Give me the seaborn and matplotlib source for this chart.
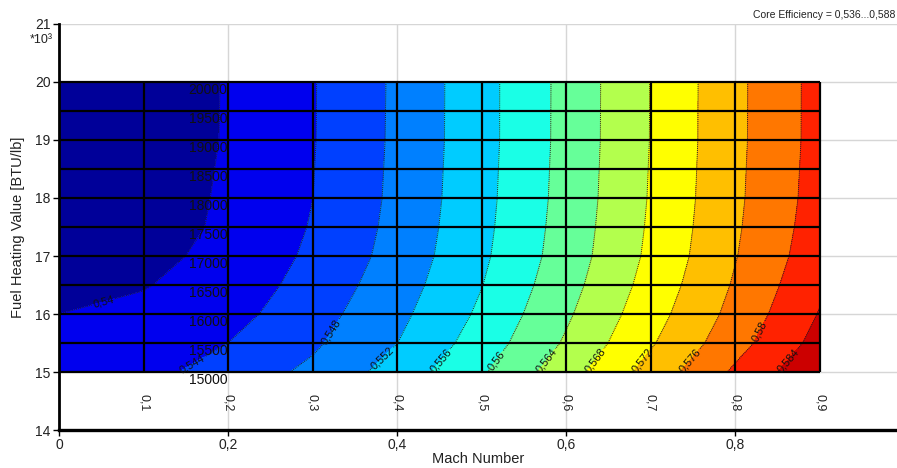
import numpy as np
import pandas as pd
import matplotlib
matplotlib.use("Agg")
import matplotlib.pyplot as plt
import seaborn as sns
from matplotlib.transforms import blended_transform_factory

# ---------------- data ----------------
mach = [0.0, 0.1, 0.2, 0.3, 0.4, 0.5, 0.6, 0.7, 0.8, 0.9]
fhv = [15000, 15500, 16000, 16500, 17000, 17500, 18000, 19000, 20000]

eff_15000 = [0.5418, 0.5428, 0.54565, 0.54885, 0.55364, 0.55951, 0.56628, 0.57345, 0.58066, 0.58727]
eff_15500 = [0.5409, 0.5418, 0.5440, 0.54736, 0.55195, 0.55784, 0.56448, 0.57156, 0.57847, 0.58538]
eff_16000 = [0.5400, 0.5408, 0.5426, 0.54638, 0.55096, 0.55671, 0.56338, 0.57036, 0.57725, 0.5842]
eff_16500 = [0.5392, 0.5398, 0.5416, 0.54548, 0.55011, 0.55588, 0.56251, 0.56945, 0.57642, 0.5832]
eff_17000 = [0.5385, 0.5389, 0.5411, 0.54467, 0.54944, 0.55527, 0.56186, 0.56879, 0.57579, 0.58237]
eff_17500 = [0.5379, 0.5379, 0.5408, 0.54423, 0.54909, 0.55497, 0.56159, 0.5685, 0.57546, 0.58192]
eff_18000 = [0.5373, 0.5374, 0.54069, 0.54397, 0.54886, 0.55477, 0.56138, 0.56829, 0.57525, 0.58162]
eff_19000 = [0.5366, 0.5372, 0.54034, 0.54379, 0.54869, 0.55458, 0.5612, 0.56809, 0.57507, 0.58138]
eff_20000 = [0.5361, 0.5370, 0.54031, 0.54376, 0.54864, 0.55458, 0.56117, 0.56807, 0.57505, 0.58136]

levels = [0.536, 0.540, 0.544, 0.548, 0.552, 0.556, 0.560, 0.564,
          0.568, 0.572, 0.576, 0.580, 0.584, 0.588]
band_colors = ["#000099", "#0000EE", "#0040FF", "#0080FF", "#00CCFF", "#1AFFE6",
               "#66FF99", "#B3FF4D", "#FFFF00", "#FFBF00", "#FF7700", "#FF2200", "#CC0000"]

label_levels = [0.540, 0.544, 0.548, 0.552, 0.556, 0.560, 0.564, 0.568, 0.572, 0.576, 0.580, 0.584]
label_rows = [16230, 15150, 15700, 15250, 15200, 15200, 15200, 15200, 15200, 15200, 15700, 15200]

grid_mach = [0.0, 0.1, 0.2, 0.3, 0.4, 0.5, 0.6, 0.7, 0.8, 0.9]
grid_fhv = [15000, 15500, 16000, 16500, 17000, 17500, 18000, 18500, 19000, 19500, 20000]
grid_fhv_labels = ["15000", "15500", "16000", "16500", "17000", "17500",
                   "18000", "18500", "19000", "19500", "20000"]
mach_labels = ["0,1", "0,2", "0,3", "0,4", "0,5", "0,6", "0,7", "0,8", "0,9"]

x_ticks = [0.0, 0.2, 0.4, 0.6, 0.8]
x_tick_labels = ["0", "0,2", "0,4", "0,6", "0,8"]
y_ticks = [14000, 15000, 16000, 17000, 18000, 19000, 20000, 21000]
y_tick_labels = ["14", "15", "16", "17", "18", "19", "20", "21"]

# ---------------- build table ----------------
rows = [eff_15000, eff_15500, eff_16000, eff_16500, eff_17000,
        eff_17500, eff_18000, eff_19000, eff_20000]
records = []
for f, r in zip(fhv, rows):
    for m, z in zip(mach, r):
        records.append({"mach": m, "fhv": f, "eff": z})
df = pd.DataFrame(records)
table = df.pivot(index="fhv", columns="mach", values="eff")
Z = table.values
X = table.columns.values
Y = table.index.values

# ---------------- style ----------------
sns.set_style("white")
plt.rcParams["font.family"] = ["Liberation Sans", "DejaVu Sans"]

W, H = 897, 468
fig = plt.figure(figsize=(W / 100, H / 100), dpi=100)
left, right, top, bottom = 59, 897, 24, 430
ax = fig.add_axes([left / W, 1 - bottom / H, (right - left) / W, (bottom - top) / H])

ax.set_xlim(0, (right - left) / 845.0)
ax.set_ylim(14000, 21000)

ax.set_axisbelow(True)
ax.grid(True, color="#d6d6d6", linewidth=1.0)

cf = ax.contourf(X, Y, Z, levels=levels, colors=band_colors, zorder=1)
cs = ax.contour(X, Y, Z, levels=levels[1:-1], colors="#222222",
                linewidths=0.7, linestyles=[(0, (1, 1))], zorder=2)

# label positions derived from the data along chosen rows
positions = []
for lev, fr in zip(label_levels, label_rows):
    zrow = np.array([np.interp(fr, Y, Z[:, j]) for j in range(len(X))])
    xm = np.interp(lev, zrow, X)
    positions.append((xm, fr))

def fmt(v):
    return ("%g" % v).replace(".", ",")

ax.clabel(cs, levels=label_levels, fmt=fmt, fontsize=8, inline=True,
          inline_spacing=1, manual=positions, colors="#111111")

# mesh lines
ax.vlines(grid_mach, grid_fhv[0], grid_fhv[-1], colors="black", linewidth=1.6, zorder=3)
ax.hlines(grid_fhv, grid_mach[0], grid_mach[-1], colors="black", linewidth=1.6, zorder=3)

# row labels at Mach 0.2
for f, lab in zip(grid_fhv, grid_fhv_labels):
    ax.text(0.199, f - 20, lab, ha="right", va="top", fontsize=10, color="#111111", zorder=4)

# rotated mach labels
for m, lab in zip(grid_mach[1:], mach_labels):
    ax.text(m, 14470, lab, rotation=270, ha="center", va="center", fontsize=9,
            color="#222222", zorder=4)

# axes styling
for s in ["top", "right"]:
    ax.spines[s].set_visible(False)
ax.spines["left"].set_linewidth(2)
ax.spines["bottom"].set_linewidth(2.4)
ax.spines["left"].set_color("black")
ax.spines["bottom"].set_color("black")

ax.set_xticks(x_ticks)
ax.set_xticklabels(x_tick_labels)
ax.set_yticks(y_ticks)
ax.set_yticklabels(y_tick_labels)
ax.tick_params(axis="both", which="both", direction="out", length=4, width=1,
               labelsize=10, colors="black", labelcolor="#222222", pad=2)
ax.tick_params(left=True, bottom=True)

ax.set_xlabel("Mach Number", fontsize=10.5, color="#222222")
ax.set_ylabel("Fuel Heating Value [BTU/lb]", fontsize=10.5, color="#222222")
ax.xaxis.set_label_coords(0.5, (bottom - 459) / (bottom - top))
ax.xaxis.label.set_va("center")
ax.yaxis.set_label_coords(-(left - 18) / (right - left), 0.5)
ax.yaxis.label.set_va("center")

trans = blended_transform_factory(ax.transAxes, ax.transData)
ax.text(-0.008, 20730, "*10³", transform=trans, ha="right", va="center",
        fontsize=9, color="#222222")

fig.text(895 / W, 1 - 15 / H, "Core Efficiency = 0,536...0,588", ha="right",
         va="center", fontsize=7.5, color="#222222")

fig.savefig("out.png", dpi=100)
